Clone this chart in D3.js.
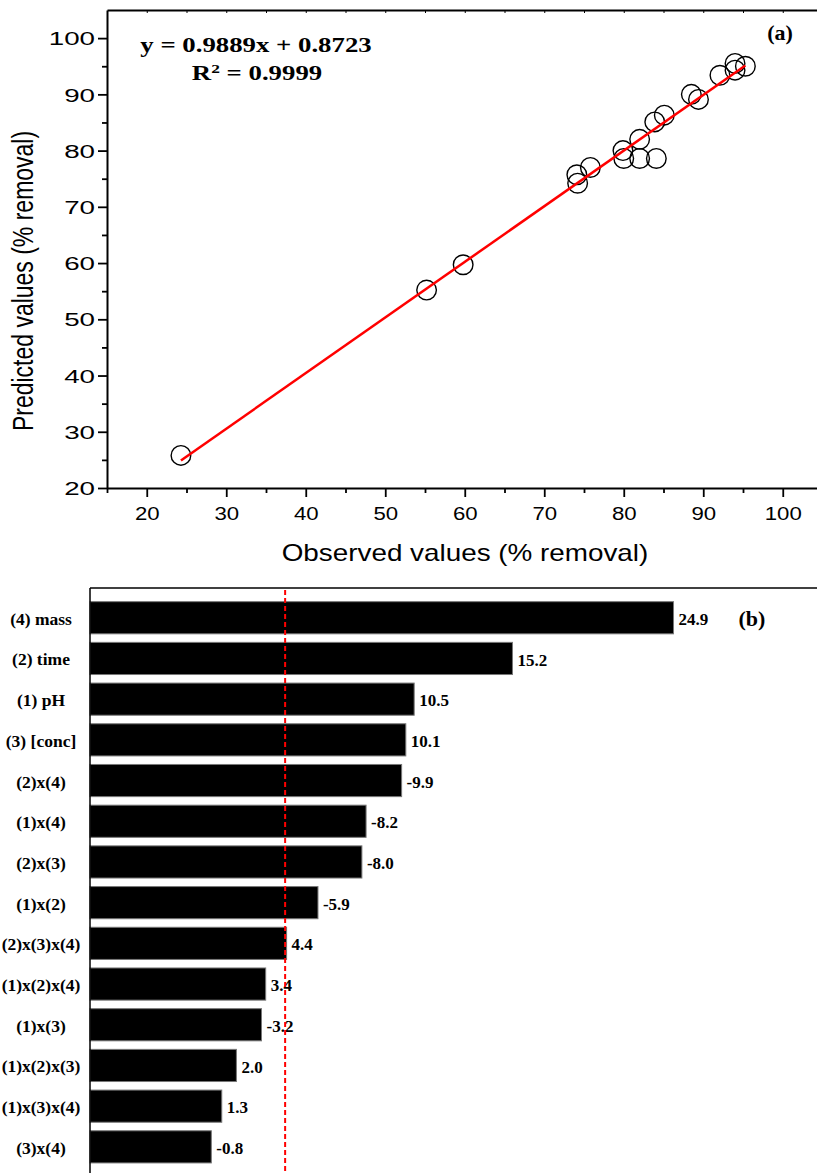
<!DOCTYPE html>
<html lang="en">
<head>
  <meta charset="UTF-8">
  <title>Predicted vs observed and Pareto chart</title>
  <style>
    body { margin: 0; background: #fff; }
    svg { display: block; background: #fff; }
    .sans { font-family: Arial, 'Liberation Sans', sans-serif; fill: #000; }
    .serif { font-family: 'Times New Roman', 'Liberation Serif', serif; font-weight: bold; fill: #000; }
  </style>
</head>
<body>
  <svg width="817" height="1173"></svg>
  <script src="https://cdn.jsdelivr.net/npm/d3@7"></script>
  <script>
    // ---- panel (a): observed vs predicted ----
    var observed  = [24.3, 55.2, 59.8, 74.1, 74.2, 75.8, 79.9, 80.0, 82.0, 82.0, 84.1, 83.9, 85.1, 88.5, 89.4, 92.1, 94.0, 94.0, 95.3]
    var predicted = [25.8, 55.2, 59.7, 75.7, 74.2, 77.0, 80.0, 78.6, 82.0, 78.6, 78.6, 85.1, 86.3, 90.0, 89.1, 93.4, 94.3, 95.5, 95.0]
    var slope = 0.9889
    var intercept = 0.8723
    var rSquared = '0.9999'
    var xTicksA = [20, 30, 40, 50, 60, 70, 80, 90, 100]
    var yTicksA = [20, 30, 40, 50, 60, 70, 80, 90, 100]

    // ---- panel (b): pareto of effects ----
    var factors = ['(4) mass', '(2) time', '(1) pH', '(3) [conc]', '(2)x(4)', '(1)x(4)', '(2)x(3)',
                   '(1)x(2)', '(2)x(3)x(4)', '(1)x(2)x(4)', '(1)x(3)', '(1)x(2)x(3)', '(1)x(3)x(4)', '(3)x(4)']
    var effects = [24.9, 15.2, 10.5, 10.1, -9.9, -8.2, -8.0, -5.9, 4.4, 3.4, -3.2, 2.0, 1.3, -0.8]
    // bar lengths as drawn (top bar is drawn shorter than its label)
    var barLengths = [22.9, 15.2, 10.5, 10.1, 9.9, 8.2, 8.0, 5.9, 4.4, 3.4, 3.2, 2.0, 1.3, 0.8]
    var refValue = 4.33

    var svg = d3.select('svg')

    // ================= panel (a) =================
    var x = d3.scaleLinear().domain([15, 105]).range([107, 822.5])
    var y = d3.scaleLinear().domain([20, 105]).range([488, 10])

    function minorOf(ticks, lo, hi) {
      return d3.range(lo, hi + 0.1, 5).filter(function(v) { return ticks.indexOf(v) < 0 })
    }

    var ga = svg.append('g')

    // left axis
    var leftAx = ga.append('g')
      .attr('transform', 'translate(' + x(15) + ',0)')
      .call(d3.axisLeft(y).tickValues(yTicksA).tickSize(9).tickSizeOuter(0))
      .attr('font-size', null).attr('font-family', null)
    leftAx.select('.domain').attr('stroke-width', 2)
    leftAx.selectAll('.tick line').attr('stroke-width', 1.8)
    leftAx.selectAll('.tick text')
      .attr('class', 'sans')
      .attr('x', 0).attr('dy', '0.36em')
      .attr('font-size', 18.5)
      .attr('transform', 'translate(-12,0) scale(1.5,1)')

    ga.append('g')
      .attr('transform', 'translate(' + x(15) + ',0)')
      .call(d3.axisLeft(y).tickValues(minorOf(yTicksA, 25, 95)).tickSize(5).tickFormat(''))
      .call(function(g) { g.select('.domain').remove() })
      .selectAll('line').attr('stroke-width', 1.8)

    // bottom axis
    var bottomAx = ga.append('g')
      .attr('transform', 'translate(0,' + y(20) + ')')
      .call(d3.axisBottom(x).tickValues(xTicksA).tickSize(9).tickSizeOuter(0))
      .attr('font-size', null).attr('font-family', null)
    bottomAx.select('.domain').attr('stroke-width', 2)
    bottomAx.selectAll('.tick line').attr('stroke-width', 1.8)
    bottomAx.selectAll('.tick text')
      .attr('class', 'sans')
      .attr('y', 0).attr('dy', null)
      .attr('font-size', 18.5)
      .attr('transform', 'translate(0,32) scale(1.2,1)')

    ga.append('g')
      .attr('transform', 'translate(0,' + y(20) + ')')
      .call(d3.axisBottom(x).tickValues(minorOf(xTicksA, 15, 95)).tickSize(5).tickFormat(''))
      .call(function(g) { g.select('.domain').remove() })
      .selectAll('line').attr('stroke-width', 1.8)

    // top axis (small inward ticks)
    var topAx = ga.append('g')
      .attr('transform', 'translate(0,' + y(105) + ')')
      .call(d3.axisTop(x).tickValues(d3.range(20, 101, 5)).tickSize(-3).tickSizeOuter(0).tickFormat(''))
    topAx.select('.domain').attr('stroke-width', 2)
    topAx.selectAll('line').attr('stroke-width', 1)

    // points
    ga.selectAll('circle.pt')
      .data(observed)
      .enter()
      .append('circle')
      .attr('class', 'pt')
      .attr('cx', function(d) { return x(d) })
      .attr('cy', function(d, i) { return y(predicted[i]) })
      .attr('r', 9.8)
      .attr('fill', 'none')
      .attr('stroke', '#000')
      .attr('stroke-width', 1.4)

    // fitted line
    var fitX = d3.extent(observed)
    ga.append('path')
      .datum(fitX)
      .attr('fill', 'none')
      .attr('stroke', '#ff0000')
      .attr('stroke-width', 2.5)
      .attr('d', d3.line()
        .x(function(d) { return x(d) })
        .y(function(d) { return y(slope * d + intercept) }))

    // texts
    ga.append('text')
      .attr('class', 'serif')
      .attr('text-anchor', 'middle')
      .attr('font-size', 20)
      .attr('transform', 'translate(256,52) scale(1.34,1)')
      .text('y = ' + slope + 'x + ' + intercept)

    var r2 = ga.append('text')
      .attr('class', 'serif')
      .attr('text-anchor', 'middle')
      .attr('font-size', 20)
      .attr('transform', 'translate(257,80) scale(1.34,1)')
    r2.append('tspan').text('R')
    r2.append('tspan').attr('font-size', 13).attr('dy', -7).text('2')
    r2.append('tspan').attr('dy', 7).text(' = ' + rSquared)

    ga.append('text')
      .attr('class', 'serif')
      .attr('text-anchor', 'middle')
      .attr('font-size', 20)
      .attr('transform', 'translate(780,40) scale(1.1,1)')
      .text('(a)')

    ga.append('text')
      .attr('class', 'sans')
      .attr('text-anchor', 'middle')
      .attr('font-size', 24)
      .attr('transform', 'translate(465,561) scale(1.16,1)')
      .text('Observed values (% removal)')

    ga.append('text')
      .attr('class', 'sans')
      .attr('text-anchor', 'middle')
      .attr('font-size', 23)
      .attr('transform', 'translate(33,281) scale(1.3,1) rotate(-90)')
      .text('Predicted values (% removal)')

    // ================= panel (b) =================
    var bTop = 588
    var xB = d3.scaleLinear().domain([-5, 30]).range([90, 822])
    var yB = d3.scaleBand()
      .domain(factors)
      .range([bTop + 9.4, bTop + 9.4 + 14 * 40.7])
      .paddingInner(0.21)
      .paddingOuter(0.105)

    var gb = svg.append('g')

    gb.selectAll('rect.bar')
      .data(factors)
      .enter()
      .append('rect')
      .attr('class', 'bar')
      .attr('x', xB.range()[0])
      .attr('y', function(d) { return yB(d) })
      .attr('width', function(d, i) { return xB(barLengths[i]) - xB.range()[0] })
      .attr('height', yB.bandwidth())
      .attr('fill', '#000')
      .attr('stroke', '#777')
      .attr('stroke-width', 1)

    gb.selectAll('text.val')
      .data(factors)
      .enter()
      .append('text')
      .attr('class', 'serif')
      .attr('font-size', 17)
      .attr('x', function(d, i) { return xB(barLengths[i]) + 5 })
      .attr('y', function(d) { return yB(d) + yB.bandwidth() / 2 })
      .attr('dy', '0.42em')
      .text(function(d, i) { return effects[i].toFixed(1) })

    // category axis
    var catAxis = gb.append('g')
      .attr('transform', 'translate(' + xB.range()[0] + ',0)')
      .call(d3.axisLeft(yB).tickSize(0))
      .attr('font-size', null).attr('font-family', null)
    catAxis.select('.domain').remove()
    catAxis.selectAll('.tick text')
      .attr('class', 'serif')
      .attr('font-size', 17.5)
      .attr('text-anchor', 'middle')
      .attr('x', -49)
      .attr('dy', '0.4em')

    // frame
    gb.append('line')
      .attr('x1', xB.range()[0]).attr('x2', 817)
      .attr('y1', bTop).attr('y2', bTop)
      .attr('stroke', '#000').attr('stroke-width', 1.5)
    gb.append('line')
      .attr('x1', xB.range()[0]).attr('x2', xB.range()[0])
      .attr('y1', bTop).attr('y2', 1173)
      .attr('stroke', '#000').attr('stroke-width', 1.5)

    // reference line
    gb.append('line')
      .attr('x1', xB(refValue)).attr('x2', xB(refValue))
      .attr('y1', bTop + 2).attr('y2', 1173)
      .attr('stroke', '#ff0000')
      .attr('stroke-width', 2)
      .attr('stroke-dasharray', '5,3')

    gb.append('text')
      .attr('class', 'serif')
      .attr('text-anchor', 'middle')
      .attr('font-size', 22)
      .attr('x', 752)
      .attr('y', 626)
      .text('(b)')
  </script>
</body>
</html>
